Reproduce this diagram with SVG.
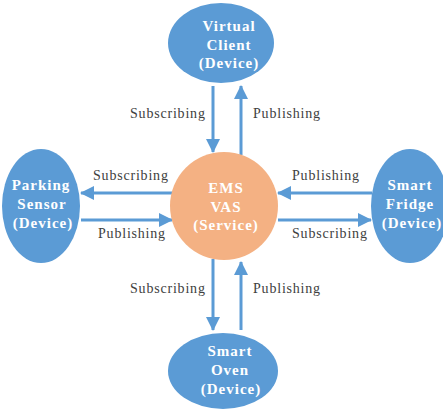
<svg xmlns="http://www.w3.org/2000/svg" width="443" height="409" viewBox="0 0 443 409">
<style>
.dev{fill:#5b9bd5}
.svc{fill:#f4b183}
.nt{font-family:"Liberation Serif",serif;font-size:15px;font-weight:bold;fill:#ffffff;text-anchor:middle;letter-spacing:1px}
.lb{font-family:"Liberation Serif",serif;font-size:14px;fill:#404040;letter-spacing:0.8px}
.ar{stroke:#5b9bd5;stroke-width:3;fill:none;marker-end:url(#ah)}
</style>
<defs>
<marker id="ah" markerUnits="userSpaceOnUse" markerWidth="14" markerHeight="14" viewBox="0 0 14 14" refX="13" refY="7" orient="auto">
<path d="M0,0 L14,7 L0,14 Z" fill="#5b9bd5"/>
</marker>
</defs>
<g id="connectors">
<line class="ar" x1="213" y1="86" x2="213" y2="152"/>
<line class="ar" x1="241" y1="155" x2="241" y2="86"/>
<line class="ar" x1="173" y1="193" x2="81" y2="193"/>
<line class="ar" x1="81" y1="220" x2="172" y2="220"/>
<line class="ar" x1="372" y1="193" x2="278" y2="193"/>
<line class="ar" x1="278" y1="220" x2="371" y2="220"/>
<line class="ar" x1="213" y1="259" x2="213" y2="330"/>
<line class="ar" x1="241" y1="330" x2="241" y2="262"/>
<text class="lb" x="130" y="118">Subscribing</text>
<text class="lb" x="253" y="118">Publishing</text>
<text class="lb" x="93" y="180">Subscribing</text>
<text class="lb" x="98" y="238">Publishing</text>
<text class="lb" x="292" y="180">Publishing</text>
<text class="lb" x="292" y="238">Subscribing</text>
<text class="lb" x="130" y="293">Subscribing</text>
<text class="lb" x="253" y="293">Publishing</text>
</g>
<g id="virtual-client">
<ellipse class="dev" cx="221" cy="43" rx="53" ry="40"/>
<text class="nt" x="229" y="31">Virtual</text>
<text class="nt" x="229" y="50">Client</text>
<text class="nt" x="229" y="68">(Device)</text>
</g>
<g id="parking-sensor">
<ellipse class="dev" cx="41" cy="206" rx="39" ry="57"/>
<text class="nt" x="41" y="190">Parking</text>
<text class="nt" x="42" y="209">Sensor</text>
<text class="nt" x="43" y="228">(Device)</text>
</g>
<g id="ems-vas">
<ellipse class="svc" cx="224" cy="206" rx="54" ry="54"/>
<text class="nt" x="226" y="193">EMS</text>
<text class="nt" x="226" y="212">VAS</text>
<text class="nt" x="226" y="230">(Service)</text>
</g>
<g id="smart-fridge">
<ellipse class="dev" cx="410" cy="206" rx="39" ry="57"/>
<text class="nt" x="410" y="190">Smart</text>
<text class="nt" x="410" y="209">Fridge</text>
<text class="nt" x="412" y="228">(Device)</text>
</g>
<g id="smart-oven">
<ellipse class="dev" cx="223" cy="371" rx="55" ry="38"/>
<text class="nt" x="230" y="356">Smart</text>
<text class="nt" x="230" y="375">Oven</text>
<text class="nt" x="231" y="394">(Device)</text>
</g>
</svg>
